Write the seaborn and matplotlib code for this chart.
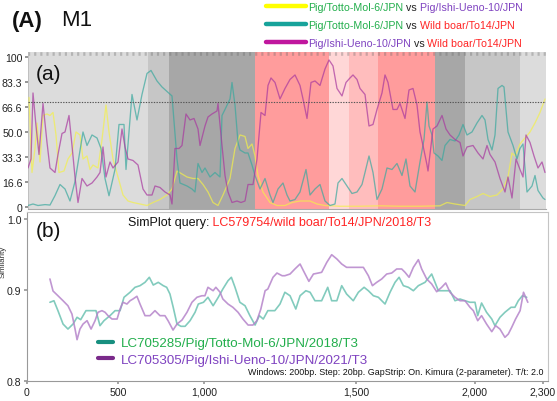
import numpy as np
import matplotlib
matplotlib.use("Agg")
import matplotlib.pyplot as plt
import seaborn as sns
from matplotlib.lines import Line2D
from matplotlib.text import Annotation
from matplotlib.ticker import StrMethodFormatter

sns.set_theme(style="white")
plt.rcParams["font.family"] = ["Liberation Sans", "DejaVu Sans"]

# ---------------- data: panel (a) (alignment position, % of informative sites) ----------------
totto_vs_ishi = [(5,73),(20,23),(35,39),(45,56),(60,30),(75,61),(95,62),(110,61),(125,63),(140,48),(155,23),
    (180,24),(200,32),(220,36),(240,50),(260,48),(275,32),(295,34),(310,25),(325,28),(350,26),(370,45),(390,68),
    (405,50),(425,32),(450,20),(475,8),(500,4),(525,3),(560,2),(595,1),(625,3),(660,5),(695,8),(720,12),(745,24),
    (770,22),(795,20),(825,19),(850,19),(875,15),(900,10),(925,3),(950,1),(975,8),(1010,19),(1035,39),(1060,48),
    (1085,47),(1100,39),(1120,42),(1135,34),(1150,21),(1175,10),(1210,3),(1245,1),(1285,1),(1320,3),(1360,4),
    (1410,4),(1445,2),(1485,1),(1560,0.5),(1660,0.5),(1760,0.8),(1860,0.5),(1960,0.5),(2060,0.8),(2095,3),
    (2135,2),(2185,1),(2210,5),(2245,7),(2275,9),(2310,7),(2345,8),(2375,12),(2400,20),(2420,36),(2435,34),
    (2460,42),(2485,46),(2510,50),(2535,56),(2560,63),(2585,72)]

totto_vs_wildboar = [(0,1),(25,2),(50,1),(85,1.6),(110,1.3),(135,7.6),(160,15),(185,12),(210,4),(235,17),
    (275,50),(295,41),(320,48),(345,46),(365,39),(385,19),(405,7.5),(435,25),(455,55),(480,55),(490,25),(520,75),
    (545,58),(570,75),(595,89),(615,91),(645,84),(670,80),(695,77),(720,74),(745,32),(760,16),(795,14),(820,12),
    (835,10),(850,29),(870,23),(885,26),(910,20),(935,23),(960,20),(970,61),(985,65),(1010,72),(1020,83),
    (1035,68),(1050,43),(1060,38),(1085,36),(1100,36),(1120,28),(1135,21),(1160,12),(1185,19),(1210,8),
    (1225,3),(1250,12),(1275,16),(1295,8),(1310,4),(1335,5),(1360,10),(1390,25),(1410,8),(1435,12),(1460,15),
    (1485,4),(1510,1),(1535,2),(1550,16),(1570,19),(1595,14),(1620,9),(1645,10),(1670,15),(1685,23),(1705,34),
    (1725,23),(1745,5),(1770,12),(1795,26),(1820,25),(1845,29),(1870,21),(1890,32),(1910,14),(1935,10),
    (1960,30),(1980,45),(1995,70),(2005,54),(2020,48),(2030,36),(2050,34),(2070,31),(2085,41),(2110,45),
    (2135,44),(2155,48),(2175,55),(2195,48),(2220,50),(2245,56),(2270,61),(2285,58),(2300,45),(2320,38),
    (2335,48),(2350,79),(2370,81),(2380,80),(2400,50),(2425,41),(2445,32),(2460,39),(2475,42),(2495,10),
    (2520,14),(2535,21),(2550,11),(2575,6),(2585,5)]

ishi_vs_wildboar = [(0,26),(15,32),(25,76),(40,54),(55,35),(75,69),(95,43),(110,26),(135,23),(150,35),(170,49),
    (185,50),(205,61),(220,41),(235,20),(250,3),(270,19),(295,14),(320,16),(345,20),(360,23),(375,40),(390,20),
    (410,30),(425,26),(450,30),(470,52),(485,40),(500,32),(525,31),(550,28),(575,12),(595,8),(620,8),(635,14),
    (660,13),(685,10),(710,8),(720,2),(735,39),(755,39),(770,41),(790,62),(810,58),(830,59),(850,52),(860,41),
    (885,54),(900,60),(920,62),(945,64),(950,69),(970,41),(985,21),(1000,10),(1020,3),(1045,4),(1065,3),
    (1085,4),(1100,15),(1125,15),(1145,32),(1165,63),(1185,61),(1200,81),(1215,86),(1235,83),(1260,72),
    (1285,79),(1310,85),(1335,88),(1360,81),(1375,72),(1395,59),(1415,83),(1435,84),(1460,81),(1485,92),
    (1505,98),(1525,94),(1545,79),(1570,74),(1590,83),(1610,86),(1625,88),(1645,85),(1660,79),(1685,75),
    (1705,54),(1725,55),(1745,65),(1770,76),(1785,88),(1800,83),(1825,65),(1845,65),(1860,69),(1885,59),
    (1905,78),(1925,79),(1945,68),(1960,50),(1975,41),(1995,28),(2000,24),(2015,41),(2025,52),(2045,54),
    (2070,61),(2090,52),(2110,48),(2135,45),(2160,43),(2175,34),(2195,40),(2225,41),(2250,36),(2275,32),
    (2295,41),(2310,35),(2335,30),(2360,19),(2385,10),(2400,20),(2420,6),(2440,32),(2460,25),(2475,20),
    (2490,48),(2510,43),(2530,34),(2550,26),(2570,30),(2585,23)]

band_edges = [0, 600, 705, 1135, 1505, 1605, 1750, 2035, 2185, 2460, 2590]
band_colors = ["#dcdcdc", "#c6c6c6", "#a7a7a7", "#ff9c9c", "#ffd7d7", "#ffbdbd",
               "#ff9c9c", "#a7a7a7", "#c6c6c6", "#dcdcdc"]
cutoff_line = 70
a_yticks = [0, 16.6, 33.3, 50.0, 66.6, 83.3, 100]
a_yticklabels = ["0", "16.6", "33.3", "50.0", "66.6", "83.3", "100"]

# ---------------- data: panel (b) SimPlot (position bp, similarity) ----------------
totto_sim = [(126,0.8865),(148,0.8882),(170,0.8773),(198,0.8626),(225,0.8571),(253,0.8626),(275,0.8700),
    (295,0.8674),(324,0.8773),(355,0.8773),(379,0.8773),(401,0.8608),(423,0.8663),(456,0.8718),(484,0.8773),
    (512,0.8773),(535,0.8920),(570,0.8975),(599,0.9038),(628,0.9061),(657,0.9108),(682,0.9179),(705,0.9070),
    (734,0.9108),(763,0.9061),(783,0.9038),(802,0.8956),(821,0.8810),(843,0.8626),(866,0.8601),(890,0.8601),
    (919,0.8663),(948,0.8755),(967,0.8846),(997,0.8865),(1013,0.8920),(1030,0.8827),(1047,0.8920),(1062,0.9014),
    (1079,0.9131),(1090,0.9179),(1102,0.9038),(1118,0.8865),(1135,0.8827),(1151,0.8718),(1168,0.8615),
    (1182,0.8718),(1195,0.8681),(1210,0.8773),(1233,0.8773),(1250,0.8846),(1266,0.8975),(1283,0.8937),
    (1302,0.8791),(1316,0.8937),(1335,0.8992),(1349,0.8975),(1365,0.8882),(1387,0.8882),(1407,0.9038),
    (1420,0.8882),(1437,0.8882),(1453,0.9061),(1469,0.8956),(1491,0.8882),(1510,0.8975),(1534,0.9038),
    (1552,0.8992),(1573,0.8937),(1594,0.8920),(1622,0.8846),(1643,0.8975),(1664,0.9108),(1681,0.9179),
    (1699,0.9061),(1720,0.9038),(1741,0.8992),(1762,0.9061),(1790,0.9108),(1818,0.9225),(1832,0.9108),
    (1846,0.8992),(1874,0.8992),(1895,0.8992),(1916,0.8882),(1937,0.8901),(1958,0.8882),(1979,0.8865),
    (2000,0.8865),(2012,0.8718),(2029,0.8857),(2051,0.8755),(2074,0.8681),(2088,0.8608),(2110,0.8700),
    (2132,0.8755),(2159,0.8810),(2176,0.8810),(2191,0.8882),(2209,0.8937),(2228,0.8920)]

ishi_sim = [(126,0.9155),(143,0.8989),(170,0.8937),(198,0.8882),(225,0.8827),(247,0.8736),(264,0.8571),
    (275,0.8454),(291,0.8571),(308,0.8626),(330,0.8663),(352,0.8571),(374,0.8663),(390,0.8755),(412,0.8773),
    (429,0.8755),(445,0.8718),(467,0.8681),(495,0.8681),(512,0.8791),(529,0.8865),(552,0.8846),(570,0.8882),
    (587,0.8901),(610,0.8931),(628,0.8846),(657,0.8718),(686,0.8718),(715,0.8773),(744,0.8718),(773,0.8718),
    (791,0.8663),(820,0.8560),(843,0.8626),(872,0.8670),(901,0.8755),(930,0.8865),(959,0.8920),(988,0.8937),
    (1003,0.8937),(1013,0.9038),(1030,0.8992),(1039,0.9038),(1053,0.8975),(1062,0.8901),(1079,0.8846),
    (1095,0.8810),(1112,0.8755),(1128,0.8681),(1145,0.8615),(1161,0.8615),(1174,0.8663),(1187,0.8791),
    (1201,0.8992),(1210,0.9014),(1227,0.9179),(1240,0.9239),(1257,0.9201),(1266,0.9201),(1283,0.9225),
    (1299,0.9296),(1316,0.9366),(1327,0.9272),(1345,0.9122),(1360,0.9225),(1376,0.9239),(1387,0.9249),
    (1404,0.9390),(1420,0.9497),(1437,0.9437),(1453,0.9366),(1469,0.9319),(1486,0.9319),(1503,0.9319),
    (1531,0.9319),(1552,0.9201),(1569,0.9061),(1587,0.9108),(1608,0.9155),(1629,0.9225),(1650,0.9239),
    (1671,0.9296),(1692,0.9296),(1706,0.9249),(1723,0.9179),(1741,0.9319),(1762,0.9427),(1776,0.9296),
    (1797,0.9155),(1818,0.9085),(1839,0.8981),(1860,0.9038),(1877,0.9099),(1895,0.8975),(1916,0.8920),
    (1937,0.8882),(1958,0.8882),(1979,0.8810),(1993,0.8773),(2012,0.8663),(2029,0.8718),(2051,0.8626),
    (2074,0.8542),(2091,0.8608),(2110,0.8571),(2132,0.8480),(2147,0.8516),(2162,0.8590),(2179,0.8681),
    (2199,0.8773),(2214,0.8975),(2233,0.8865)]

b_xticks = [0, 500, 1000, 1500, 2000, 2300]
b_yticks = [0.8, 0.9, 1.0]

query_label = "LC579754/wild boar/To14/JPN/2018/T3"
totto_label = "LC705285/Pig/Totto-Mol-6/JPN/2018/T3"
ishi_label = "LC705305/Pig/Ishi-Ueno-10/JPN/2021/T3"

GREEN, PURPLE, RED = "#22ae4c", "#7f42c0", "#ff2424"

# ---------------- figure ----------------
W, H = 557, 402
fig = plt.figure(figsize=(W / 100, H / 100), dpi=100)

def fx(x):
    return x / W

def fy(y):
    return 1 - y / H

def chain(prev, parts, size):
    for s, c in parts:
        a = Annotation(s, xy=(1, 0), xycoords=prev, color=c, fontsize=size,
                       ha="left", va="bottom", zorder=20, annotation_clip=False)
        fig.add_artist(a)
        prev = a
    return prev

# ---- panel (a)
ax1 = fig.add_axes([fx(28), fy(210), (546 - 28) / W, (210 - 53) / H])
for i, c in enumerate(band_colors):
    ax1.axvspan(band_edges[i], band_edges[i + 1], color=c, lw=0, zorder=0)

def xy(pairs):
    a = np.array(pairs, dtype=float)
    return a[:, 0], a[:, 1]

for pairs, col in [(totto_vs_ishi, "#f4f04a"), (totto_vs_wildboar, "#3aa89e"), (ishi_vs_wildboar, "#a8389f")]:
    x, y = xy(pairs)
    sns.lineplot(x=x, y=y, ax=ax1, color=col, linewidth=0.95, alpha=0.7,
                 estimator=None, sort=False, zorder=3)

ax1.axhline(cutoff_line, color="#555555", lw=0.8, ls=(0, (1.2, 1.2)), zorder=4)
ax1.axhline(101.8, color="#6a6a6a", lw=2.6, ls=(0, (0.6, 1.1)), alpha=0.35, zorder=2)
ax1.set_xlim(band_edges[0], band_edges[-1])
ax1.set_ylim(-1.33, 103.3)
ax1.set_xticks([])
ax1.set_yticks(a_yticks, a_yticklabels)
ax1.tick_params(axis="y", labelsize=7.6, length=2, pad=2, color="#888888", left=True, colors="#222222")
for s in ["top", "right"]:
    ax1.spines[s].set_visible(False)
ax1.spines["left"].set_color("#bbbbbb")
ax1.spines["bottom"].set_color("#aaaaaa")
ax1.spines["left"].set_linewidth(0.6)
ax1.spines["bottom"].set_linewidth(0.8)
ax1.set_xlabel("")
ax1.set_ylabel("")
ax1.text(fx(36), fy(75), "(a)", transform=fig.transFigure, fontsize=15, va="center", ha="left", color="#111111")

# ---- panel (b): axis calibrated to the reference tick spacing
def piecewise(d_pts, p_pts):
    d = np.asarray(d_pts, float)
    p = np.asarray(p_pts, float)

    def make(src, dst):
        def f(v):
            v = np.asarray(v, float)
            out = np.interp(v, src, dst)
            lo_slope = (dst[1] - dst[0]) / (src[1] - src[0])
            hi_slope = (dst[-1] - dst[-2]) / (src[-1] - src[-2])
            out = np.where(v < src[0], dst[0] + (v - src[0]) * lo_slope, out)
            out = np.where(v > src[-1], dst[-1] + (v - src[-1]) * hi_slope, out)
            return out
        return f
    return make(d, p), make(p, d)

ax2 = fig.add_axes([fx(27), fy(382), (548 - 27) / W, (382 - 213) / H])
xf, xi = piecewise(b_xticks, [0, 91, 177, 329, 448, 516])
yf, yi = piecewise(b_yticks, [0, 91, 162])
ax2.set_xscale("function", functions=(xf, xi))
ax2.set_yscale("function", functions=(yf, yi))

x, y = xy(totto_sim)
sns.lineplot(x=x, y=y, ax=ax2, color="#6cc2b2", linewidth=1.2, alpha=0.85, estimator=None, sort=False)
x, y = xy(ishi_sim)
sns.lineplot(x=x, y=y, ax=ax2, color="#b584ca", linewidth=1.2, alpha=0.85, estimator=None, sort=False)

ax2.set_xlim(0, float(xi(521)))
ax2.set_ylim(0.8, float(yi(169)))
ax2.set_xticks(b_xticks)
ax2.xaxis.set_major_formatter(StrMethodFormatter("{x:,.0f}"))
ax2.set_yticks(b_yticks, ["0.8", "0.9", "1.0"])
ax2.xaxis.set_minor_locator(matplotlib.ticker.NullLocator())
ax2.yaxis.set_minor_locator(matplotlib.ticker.NullLocator())
ax2.tick_params(labelsize=7.6, length=2, pad=2, color="#999999", bottom=True, left=True, colors="#222222")
for s in ax2.spines.values():
    s.set_color("#c4c4c4")
    s.set_linewidth(0.8)
ax2.spines["left"].set_color("#999999")
ax2.spines["bottom"].set_color("#999999")
ax2.set_xlabel("")
ax2.set_ylabel("")

leg2 = ax2.legend(handles=[Line2D([], [], color="#178f7f", lw=3), Line2D([], [], color="#7a2a8a", lw=3)],
                  labels=[totto_label, ishi_label], loc="upper left",
                  bbox_to_anchor=(fx(98), fy(338)), bbox_transform=fig.transFigure,
                  frameon=False, fontsize=9.6, handlelength=1.15, handletextpad=0.55,
                  labelspacing=0.33, borderpad=0, borderaxespad=0)
leg2.get_texts()[0].set_color(GREEN)
leg2.get_texts()[1].set_color(PURPLE)

fig.text(fx(36), fy(232), "(b)", fontsize=15, va="center", ha="left", color="#111111")
t = fig.text(fx(128), fy(223), "SimPlot query:", fontsize=9, va="center", ha="left", color="#111111")
chain(t, [(" " + query_label, RED)], 9)
fig.text(fx(544), fy(373), "Windows: 200bp. Step: 20bp. GapStrip: On. Kimura (2-parameter). T/t: 2.0",
         fontsize=6.4, ha="right", va="center", color="#111111")
fig.text(fx(3.6), fy(262), "Similarity", fontsize=5.8, rotation=90, ha="center", va="center", color="#333333")

# ---- header
fig.text(fx(12), fy(21), "(A)", fontsize=16, fontweight="bold", va="center", ha="left", color="#111111")
fig.text(fx(61), fy(21), "M1", fontsize=16, va="center", ha="left", color="#111111")

leg1 = fig.legend(handles=[Line2D([], [], color="#ffff00", lw=3.2),
                           Line2D([], [], color="#17a39b", lw=3.2),
                           Line2D([], [], color="#c0179e", lw=3.2)],
                  labels=["Pig/Totto-Mol-6/JPN", "Pig/Totto-Mol-6/JPN", "Pig/Ishi-Ueno-10/JPN"],
                  loc="upper left", bbox_to_anchor=(fx(266), fy(3)), frameon=False,
                  fontsize=7.7, handlelength=3.7, handletextpad=0.2, labelspacing=0.75,
                  borderpad=0, borderaxespad=0)
texts = leg1.get_texts()
texts[0].set_color(GREEN)
texts[1].set_color(GREEN)
texts[2].set_color(PURPLE)
chain(texts[0], [(" vs", "#222222"), (" Pig/Ishi-Ueno-10/JPN", PURPLE)], 7.7)
chain(texts[1], [(" vs", "#222222"), (" Wild boar/To14/JPN", RED)], 7.7)
chain(texts[2], [(" vs", "#222222"), (" Wild boar/To14/JPN", RED)], 7.7)

fig.savefig("out.png", dpi=100)
